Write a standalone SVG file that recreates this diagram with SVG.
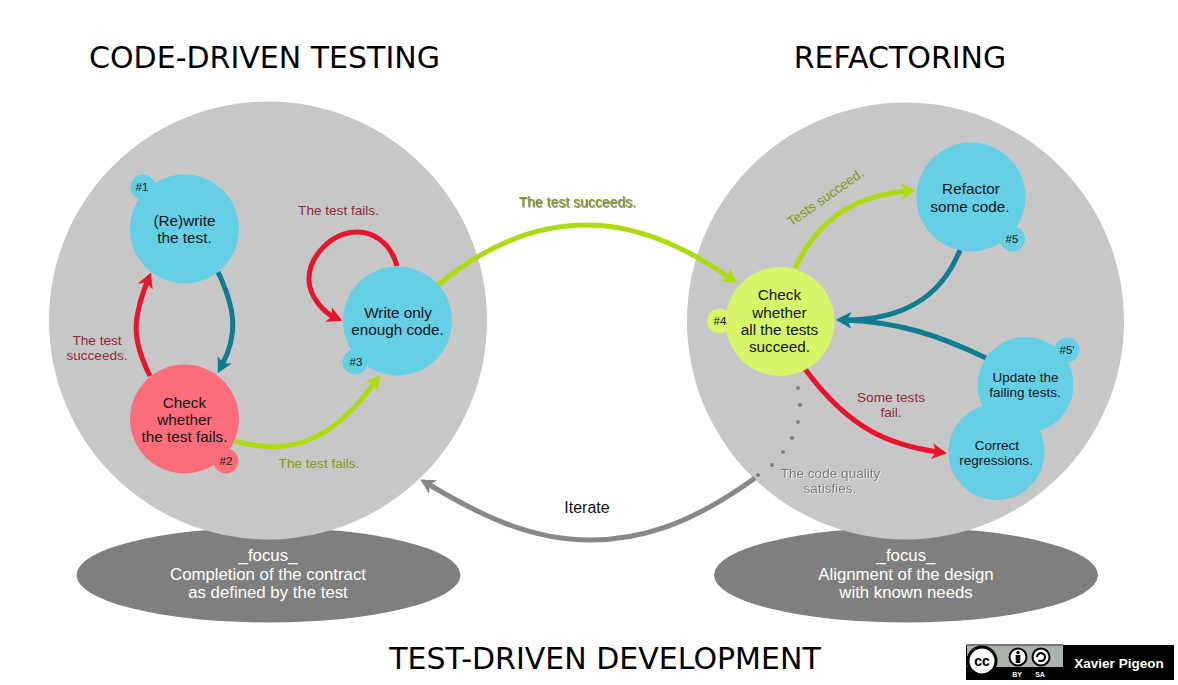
<svg xmlns="http://www.w3.org/2000/svg" width="1178" height="685" viewBox="0 0 1178 685">
<style>
text{font-family:"Liberation Sans",Arial,sans-serif;text-anchor:middle}
.title{font-family:"DejaVu Sans",sans-serif;font-size:30px;fill:#000}
.n{font-size:15.3px;fill:#101418}
.nn{font-size:13.500px;fill:#101418}
.tag{font-size:11.5px;fill:#101418}
.f{font-size:16.800px;fill:#fff}
.l{font-size:13.600px}
.red{fill:#8e2a3b}
.olive{fill:#7f9a12}
.blue{fill:#65cfe5}.pink{fill:#fb6d7a}.yg{fill:#d7f568}
.bg{fill:#c7c7c7}.el{fill:#7f7f7f}
.c{fill:none;stroke-width:5;stroke-linecap:butt}
</style>
<defs>
<marker id="mL" markerUnits="userSpaceOnUse" markerWidth="20" markerHeight="20" viewBox="0 -10 20 20" refX="6" refY="0" orient="auto"><path d="M0-8L15 0L0 8L4 0Z" fill="#aedb0f"/></marker>
<marker id="mR" markerUnits="userSpaceOnUse" markerWidth="20" markerHeight="20" viewBox="0 -10 20 20" refX="6" refY="0" orient="auto"><path d="M0-8L15 0L0 8L4 0Z" fill="#e8142a"/></marker>
<marker id="mT" markerUnits="userSpaceOnUse" markerWidth="20" markerHeight="20" viewBox="0 -10 20 20" refX="6" refY="0" orient="auto"><path d="M0-8L15 0L0 8L4 0Z" fill="#0f7c8f"/></marker>
<marker id="mG" markerUnits="userSpaceOnUse" markerWidth="20" markerHeight="20" viewBox="0 -10 20 20" refX="6" refY="0" orient="auto"><path d="M0-8L15 0L0 8L4 0Z" fill="#888"/></marker>
<filter id="sh" x="-10%" y="-30%" width="120%" height="160%"><feDropShadow dx="0.8" dy="0.8" stdDeviation="0.2" flood-color="#555" flood-opacity="0.8"/></filter>
<filter id="sw" x="-10%" y="-30%" width="120%" height="160%"><feDropShadow dx="0.8" dy="0.6" stdDeviation="0.2" flood-color="#fff" flood-opacity="0.9"/></filter>
</defs>
<rect width="1178" height="685" fill="#fff"/>
<text class="title" x="264.500" y="68">CODE-DRIVEN TESTING</text>
<text class="title" x="900" y="68">REFACTORING</text>
<text class="title" x="605" y="669">TEST-DRIVEN DEVELOPMENT</text>

<g id="focus-left"><ellipse class="el" cx="268.500" cy="575" rx="192" ry="47.500"/></g>
<g id="focus-right"><ellipse class="el" cx="906" cy="575" rx="192" ry="47.500"/></g>
<g id="phase-left"><circle class="bg" cx="268" cy="320.500" r="219"/></g>
<g id="phase-right"><circle class="bg" cx="905.500" cy="321" r="218.500"/></g>
<text class="f" x="268" y="561">_focus_</text>
<text class="f" x="268" y="580">Completion of the contract</text>
<text class="f" x="268" y="598">as defined by the test</text>
<text class="f" x="906" y="561">_focus_</text>
<text class="f" x="906" y="580">Alignment of the design</text>
<text class="f" x="906" y="598">with known needs</text>

<g id="connectors">
<path class="c" stroke="#e8142a" marker-end="url(#mR)" d="M150 376C132 340 132 320 147.500 281"/>
<path class="c" stroke="#0f7c8f" marker-end="url(#mT)" d="M218 272C236 310 238 335 222 365"/>
<path class="c" stroke="#e8142a" marker-end="url(#mR)" d="M397 266C390 240 370 232 358 232C330 232 308 258 309 281C310 298 325 313 334 317"/>
<path class="c" stroke="#aedb0f" marker-end="url(#mL)" d="M235 441C300 460 340 430 375 382"/>
<path class="c" stroke="#aedb0f" marker-end="url(#mL)" d="M438 285C480 250 530 225 587 225C640 225 690 250 730 278"/>
<path class="c" stroke="#888" marker-end="url(#mG)" d="M755 478C690 525 640 540 590 540C530 540 480 515 428 484"/>
<path class="c" stroke="#aedb0f" marker-end="url(#mL)" d="M795 268C820 215 860 195 907 191"/>
<path class="c" stroke="#0f7c8f" marker-end="url(#mT)" d="M960 250C940 300 900 320 845 320"/>
<path class="c" stroke="#0f7c8f" marker-end="url(#mT)" d="M986 358C940 336 900 322 845 320"/>
<path class="c" stroke="#e8142a" marker-end="url(#mR)" d="M805 369C850 430 890 445 938 452"/>
<g fill="#808080">
<circle cx="798" cy="388" r="2"/><circle cx="800" cy="405" r="2"/><circle cx="798" cy="422" r="2"/><circle cx="792" cy="438" r="2"/><circle cx="783" cy="452" r="2"/><circle cx="772" cy="465" r="2"/><circle cx="758" cy="475" r="2"/>
</g>
</g>

<g id="node1"><circle class="blue" cx="143" cy="187" r="12.500"/><circle class="blue" cx="184.500" cy="229" r="54.500"/>
<text class="tag" x="142" y="191">#1</text><text class="n" x="184.500" y="226">(Re)write</text><text class="n" x="184.500" y="243">the test.</text></g>
<g id="node2"><circle class="pink" cx="226" cy="461" r="12.500"/><circle class="pink" cx="184.500" cy="419" r="54.500"/>
<text class="tag" x="226" y="465">#2</text><text class="n" x="184.500" y="408">Check</text><text class="n" x="184.500" y="425">whether</text><text class="n" x="184.500" y="442">the test fails.</text></g>
<g id="node3"><circle class="blue" cx="355" cy="362" r="12.500"/><circle class="blue" cx="397.500" cy="321" r="54.500"/>
<text class="tag" x="356" y="366">#3</text><text class="n" x="398" y="318">Write only</text><text class="n" x="397.500" y="335">enough code.</text></g>
<g id="node4"><circle class="yg" cx="719.500" cy="321" r="12.500"/><circle class="yg" cx="780" cy="321.500" r="54.500"/>
<text class="tag" x="720" y="325">#4</text><text class="n" x="779.500" y="300">Check</text><text class="n" x="779.500" y="318">whether</text><text class="n" x="779.500" y="335">all the tests</text><text class="n" x="779.500" y="352">succeed.</text></g>
<g id="node5"><circle class="blue" cx="1012.500" cy="239" r="12.500"/><circle class="blue" cx="971" cy="197" r="54.500"/>
<text class="tag" x="1012" y="243">#5</text><text class="n" x="971" y="194">Refactor</text><text class="n" x="970" y="212">some code.</text></g>
<g id="node5b"><circle class="blue" cx="1067" cy="350" r="12.500"/><circle class="blue" cx="1025.500" cy="385" r="48"/>
<text class="tag" x="1067" y="354">#5'</text><text class="nn" x="1025.500" y="382">Update the</text><text class="nn" x="1025" y="397">failing tests.</text></g>
<g id="node6"><circle class="blue" cx="996.500" cy="452" r="48"/>
<text class="nn" x="997" y="450">Correct</text><text class="nn" x="996" y="465">regressions.</text></g>

<g id="labels">
<text class="l red" x="338.500" y="215">The test fails.</text>
<text class="l red" x="97" y="345">The test</text>
<text class="l red" x="97" y="360">succeeds.</text>
<text class="l olive" x="319" y="468">The test fails.</text>
<text class="l olive" x="577.500" y="207" font-size="14" style="font-size:14px" filter="url(#sh)">The test succeeds.</text>
<text class="l olive" transform="translate(828 201) rotate(-35)">Tests succeed.</text>
<text class="l red" x="891" y="402">Some tests</text>
<text class="l red" x="891" y="417">fail.</text>
<text class="l" x="830.500" y="478" fill="#777" filter="url(#sw)">The code quality</text>
<text class="l" x="830" y="493" fill="#777" filter="url(#sw)">satisfies.</text>
<text x="587" y="513" font-size="16" fill="#101418">Iterate</text>
</g>

<g id="license">
<rect x="966" y="645" width="208" height="35" fill="#000"/>
<rect x="967" y="646" width="96" height="21" fill="#aab2ab"/>
<rect x="966" y="644" width="97" height="2" fill="#777"/>
<circle cx="982" cy="661" r="14" fill="#fff" stroke="#000" stroke-width="3"/>
<text x="982" y="666" font-size="14" font-weight="bold" fill="#000">cc</text>
<circle cx="1018" cy="657" r="8.500" fill="#fff" stroke="#000" stroke-width="2"/>
<circle cx="1018" cy="652.500" r="1.700" fill="#000"/><rect x="1015.700" y="655" width="4.600" height="8" fill="#000"/>
<circle cx="1041" cy="657" r="8.500" fill="#fff" stroke="#000" stroke-width="2"/>
<path d="M1037 657a4 4 0 1 1 1.500 3.200" fill="none" stroke="#000" stroke-width="2"/>
<text x="1017" y="677" font-size="7" font-weight="bold" fill="#fff">BY</text>
<text x="1040" y="677" font-size="7" font-weight="bold" fill="#fff">SA</text>
<text x="1119" y="668" font-size="13.500" font-weight="bold" fill="#fff">Xavier Pigeon</text>
</g>
</svg>
